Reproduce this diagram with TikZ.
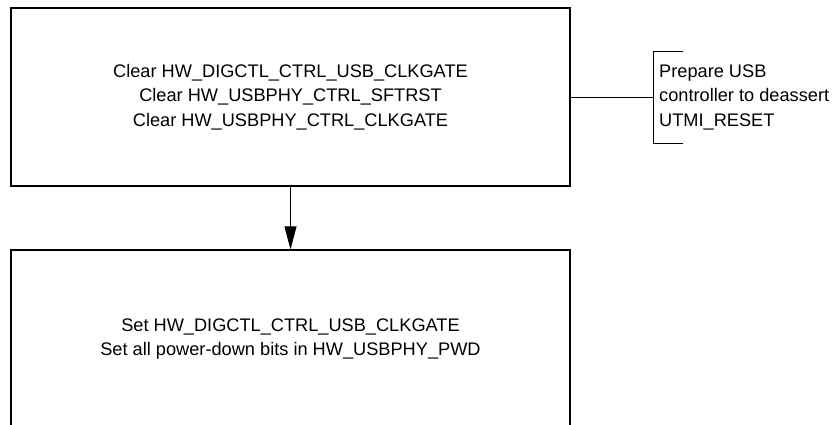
\documentclass[tikz,border=0pt]{standalone}
\usepackage{fontspec}
\setmainfont{Liberation Sans}
\usetikzlibrary{arrows.meta}
\begin{document}
\begin{tikzpicture}[x=1pt,y=-1pt,
    txt/.style={font=\fontsize{18.2}{24.5}\selectfont,inner sep=0pt},
    blk/.style={txt,draw,line width=1.2pt,minimum width=559pt,minimum height=178pt,align=center}]
                    \clip (0,0) rectangle (834,425);
                    \node[blk] (clr) at (290.5,97) {Clear HW\_DIGCTL\_CTRL\_USB\_CLKGATE\\Clear HW\_USBPHY\_CTRL\_SFTRST\\Clear HW\_USBPHY\_CTRL\_CLKGATE};
                    \node[blk] (set) at (290.5,339) {Set HW\_DIGCTL\_CTRL\_USB\_CLKGATE\\Set all power-down bits in HW\_USBPHY\_PWD};
                    \node[txt,align=left,anchor=west] (note) at (659,97) {Prepare USB\\controller to deassert\\UTMI\_RESET};
                    \draw[-{Triangle[length=23pt,width=12pt]},line width=0.8pt] (clr) -- (set);
                    \draw[line width=0.9pt] (clr.east) -- ([xshift=-6pt]note.west);
                    \draw[line width=0.9pt] ([shift={(24,-46)}]note.west) -| ([xshift=-6pt]note.west) |- ([shift={(24,46)}]note.west);
                \end{tikzpicture}
\end{document}
